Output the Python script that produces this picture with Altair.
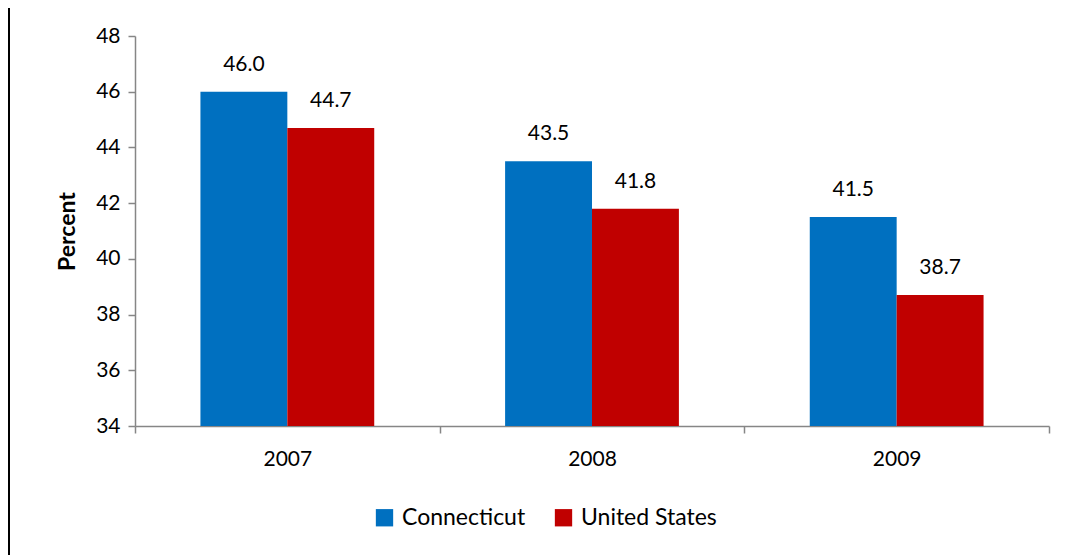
import altair as alt
import pandas as pd

years = ["2007", "2008", "2009"]
connecticut = [46.0, 43.5, 41.5]
united_states = [44.7, 41.8, 38.7]
series_names = ["Connecticut", "United States"]
colors = ["#0070C0", "#C00000"]
y_ticks = [34, 36, 38, 40, 42, 44, 46, 48]
y_min, y_max = 34, 48

rows = []
for i, yr in enumerate(years):
    rows.append({"year": yr, "series": series_names[0], "value": connecticut[i]})
    rows.append({"year": yr, "series": series_names[1], "value": united_states[i]})
df = pd.DataFrame(rows)
df["label"] = df["value"].map(lambda v: f"{v:.1f}")

FONT = "Lato"

x_enc = alt.X("year:N", title=None, sort=years,
              scale=alt.Scale(paddingInner=0, paddingOuter=0),
              axis=alt.Axis(labelAngle=0, tickBand="extent"))
y_enc = alt.Y("value:Q", title="Percent",
              scale=alt.Scale(domain=[y_min, y_max], zero=False, nice=False),
              axis=alt.Axis(values=y_ticks))
xoff = alt.XOffset("series:N", sort=series_names)
color_enc = alt.Color("series:N", sort=series_names,
                      scale=alt.Scale(domain=series_names, range=colors),
                      legend=alt.Legend(title=None, orient="none", direction="horizontal",
                                        legendX=238, legendY=470,
                                        symbolType="square", symbolSize=300,
                                        symbolStrokeWidth=0,
                                        labelFontSize=23, labelFont=FONT,
                                        labelColor="#000000", columnPadding=26,
                                        labelOffset=6))

bars = alt.Chart(df).mark_bar().encode(x=x_enc, y=y_enc, y2=alt.datum(y_min),
                                       xOffset=xoff, color=color_enc)
text = alt.Chart(df).mark_text(dy=-17, fontSize=21, font=FONT, color="#000000",
                               baseline="bottom").encode(
    x=x_enc, y=y_enc, xOffset=xoff, text="label:N")

frame_left = alt.Chart(df).mark_rule(color="#000000", strokeWidth=2).encode(
    x=alt.value(-126), y=alt.value(-40), y2=alt.value(540))

chart = alt.layer(bars, text, frame_left).properties(
    width=914, height=390,
    autosize=alt.AutoSizeParams(type="none"),
    padding={"left": 127, "top": 28, "right": 15, "bottom": 140},
).configure_view(stroke=None).configure_scale(
    offsetBandPaddingInner=0, offsetBandPaddingOuter=0.753
).configure_axis(
    grid=False, labelFontSize=21, labelColor="#000000", labelFont=FONT,
    labelPadding=8, titleFont=FONT, titleFontSize=23, titleFontWeight="bold",
    titleColor="#000000", domainColor="#868686", tickColor="#868686",
    tickSize=7, domainWidth=1.5, tickWidth=1.5
).configure_axisY(titlePadding=16).configure_axisX(labelPadding=15)

chart.save("out.html", embed_options={"renderer": "svg", "actions": False})
